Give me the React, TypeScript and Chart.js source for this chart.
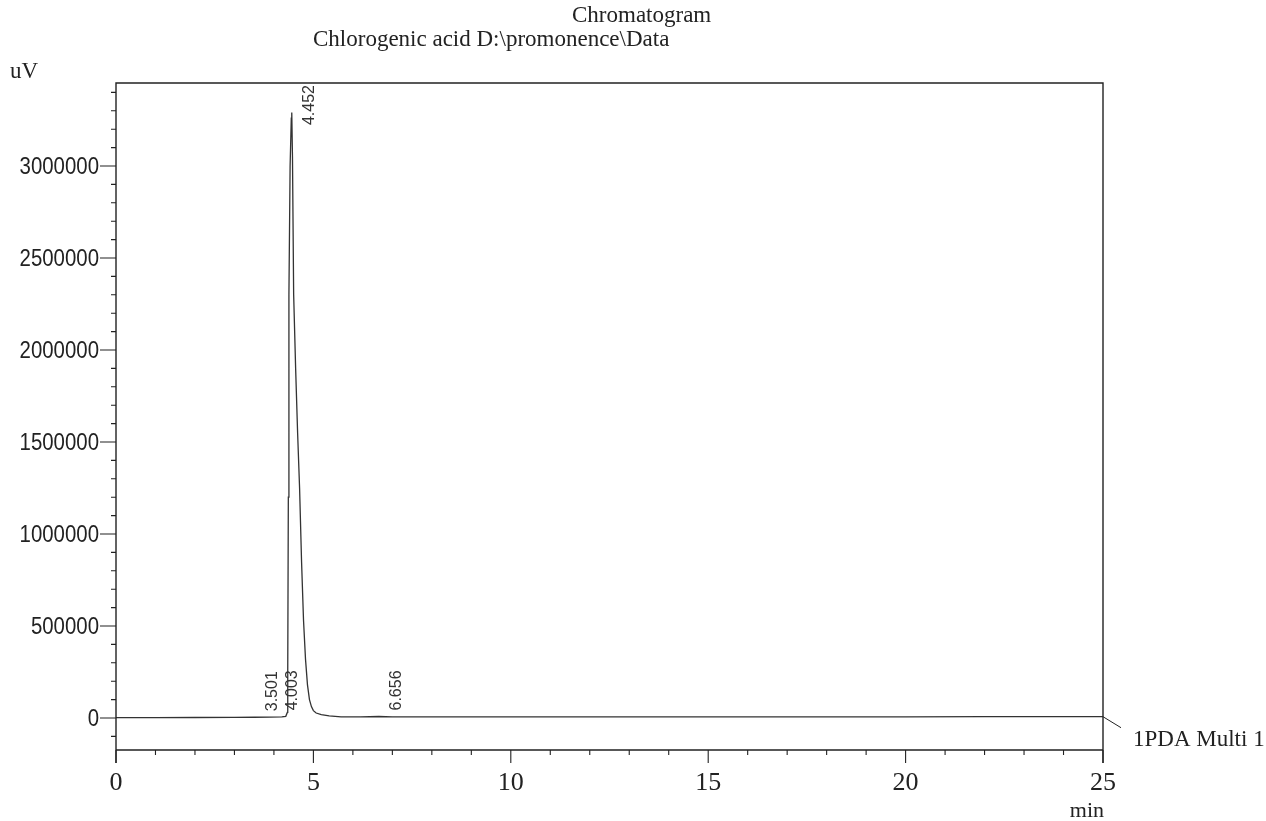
import React, { useEffect, useRef } from "react";
import { Chart, registerables } from "chart.js";

Chart.register(...registerables);

// ---- data ----
const times = [
  0, 1, 2, 3, 3.5, 3.9, 4.2, 4.3, 4.34, 4.35, 4.365, 4.38, 4.41, 4.44, 4.452,
  4.47, 4.5, 4.55, 4.6, 4.65, 4.7, 4.75, 4.8, 4.85, 4.9, 4.95, 5.0, 5.07, 5.2,
  5.4, 5.7, 6.2, 6.656, 7.0, 7.5, 8, 10, 12, 15, 18, 20, 22, 25,
];
const signal = [
  2000, 2000, 2500, 3000, 4000, 4500, 6000, 9000, 30000, 250000, 1200000,
  2300000, 3000000, 3260000, 3290000, 3050000, 2300000, 1900000, 1550000,
  1250000, 850000, 530000, 320000, 180000, 100000, 62000, 40000, 27000, 18000,
  11000, 6000, 5500, 8000, 6000, 5500, 5500, 5500, 6000, 6000, 6500, 6500,
  7000, 7000,
];

const xTickValues = [0, 5, 10, 15, 20, 25];
const xTickLabels = ["0", "5", "10", "15", "20", "25"];
const yTickValues = [0, 500000, 1000000, 1500000, 2000000, 2500000, 3000000];
const yTickLabels = ["0", "500000", "1000000", "1500000", "2000000", "2500000", "3000000"];

const peakTimes = [3.501, 4.003, 4.452, 6.656];
const peakLabels = ["3.501", "4.003", "4.452", "6.656"];
const peakHeights = [4000, 9000, 3290000, 8000];

const titleLine1 = "Chromatogram";
const titleLine2 = "Chlorogenic acid D:\\promonence\\Data";
const yUnit = "uV";
const xUnit = "min";
const traceName = "1PDA Multi 1";

const X_MIN = 0;
const X_MAX = 25;
const Y_MIN = -174000;
const Y_MAX = 3451000;

const INK = "#222222";

function drawText(
  ctx: CanvasRenderingContext2D,
  s: string,
  x: number,
  y: number,
  font: string,
  align: CanvasTextAlign,
  sx = 1
) {
  ctx.save();
  ctx.translate(x, y);
  ctx.scale(sx, 1);
  ctx.font = font;
  ctx.textAlign = align;
  ctx.textBaseline = "alphabetic";
  ctx.fillStyle = INK;
  ctx.fillText(s, 0, 0);
  ctx.restore();
}

const framePlugin = {
  id: "chromFrame",
  afterDraw(chart: any) {
    const ctx: CanvasRenderingContext2D = chart.ctx;
    const { left, right, top, bottom } = chart.chartArea;
    const xs = chart.scales.x;
    const ys = chart.scales.y;
    ctx.save();
    ctx.strokeStyle = INK;
    ctx.lineWidth = 1.4;
    ctx.lineCap = "butt";

    // frame: top, left axis, right side, bottom axis
    ctx.beginPath();
    ctx.moveTo(left, bottom + 13);
    ctx.lineTo(left, top);
    ctx.lineTo(right, top);
    ctx.lineTo(right, bottom + 13);
    ctx.moveTo(left, bottom);
    ctx.lineTo(right, bottom);
    ctx.stroke();

    // y ticks
    ctx.lineWidth = 1.1;
    ctx.beginPath();
    for (let v = -100000; v <= Y_MAX; v += 100000) {
      const py = ys.getPixelForValue(v);
      const major = yTickValues.includes(v);
      ctx.moveTo(left - (major ? 16 : 5), py);
      ctx.lineTo(left, py);
    }
    // x ticks
    for (let t = X_MIN; t <= X_MAX; t += 1) {
      const px = xs.getPixelForValue(t);
      const major = xTickValues.includes(t);
      ctx.moveTo(px, bottom);
      ctx.lineTo(px, bottom + (major ? 13 : 5));
    }
    ctx.stroke();

    // y tick labels
    yTickValues.forEach((v, i) => {
      const py = ys.getPixelForValue(v);
      drawText(ctx, yTickLabels[i], left - 17, py + 8.5, "24px 'Liberation Sans'", "right", 0.85);
    });
    // x tick labels
    xTickValues.forEach((t, i) => {
      const px = xs.getPixelForValue(t);
      drawText(ctx, xTickLabels[i], px, bottom + 40, "26px 'Liberation Serif'", "center");
    });

    // units and titles
    drawText(ctx, yUnit, 10, top - 5, "23px 'Liberation Serif'", "left");
    drawText(ctx, xUnit, right + 1, bottom + 67, "22px 'Liberation Serif'", "right");
    drawText(ctx, titleLine1, left + 456, 22, "23px 'Liberation Serif'", "left");
    drawText(ctx, titleLine2, left + 197, 46, "23px 'Liberation Serif'", "left");

    // trace name with connector
    const lastY = ys.getPixelForValue(signal[signal.length - 1]);
    ctx.lineWidth = 1;
    ctx.beginPath();
    ctx.moveTo(right, lastY);
    ctx.lineTo(right + 18, lastY + 11);
    ctx.stroke();
    drawText(ctx, traceName, right + 30, lastY + 29, "23px 'Liberation Serif'", "left");

    // peak retention-time labels, rotated
    ctx.font = "16px 'Liberation Sans'";
    peakTimes.forEach((rt, i) => {
      const label = peakLabels[i];
      const w = ctx.measureText(label).width;
      const cx = xs.getPixelForValue(rt) + 17;
      let start = ys.getPixelForValue(peakHeights[i]) - 6;
      if (start - w < top + 2) start = top + 2 + w;
      ctx.save();
      ctx.translate(cx, start);
      ctx.rotate(-Math.PI / 2);
      ctx.font = "16px 'Liberation Sans'";
      ctx.textAlign = "left";
      ctx.textBaseline = "alphabetic";
      ctx.fillStyle = "#333333";
      ctx.fillText(label, 0, 5.7);
      ctx.restore();
    });
    ctx.restore();
  },
};

export default function App() {
  const ref = useRef<HTMLCanvasElement | null>(null);
  useEffect(() => {
    if (!ref.current) return;
    const points = times.map((t, i) => ({ x: t, y: signal[i] }));
    const chart = new Chart(ref.current, {
      type: "line",
      data: {
        datasets: [
          {
            data: points,
            borderColor: "#333333",
            borderWidth: 1.3,
            pointRadius: 0,
            tension: 0,
            fill: false,
          },
        ],
      },
      options: {
        animation: false,
        responsive: false,
        devicePixelRatio: 1,
        layout: { padding: { left: 116, right: 163, top: 83, bottom: 71 } },
        plugins: {
          legend: { display: false },
          tooltip: { enabled: false },
          title: { display: false },
        },
        scales: {
          x: { type: "linear", min: X_MIN, max: X_MAX, display: false },
          y: { type: "linear", min: Y_MIN, max: Y_MAX, display: false },
        },
      },
      plugins: [framePlugin],
    });
    return () => chart.destroy();
  }, []);
  return (
    <div
      style={{
        position: "fixed",
        left: 0,
        top: 0,
        width: 1266,
        height: 821,
        background: "#ffffff",
      }}
    >
      <canvas ref={ref} width={1266} height={821} style={{ width: 1266, height: 821 }} />
    </div>
  );
}
